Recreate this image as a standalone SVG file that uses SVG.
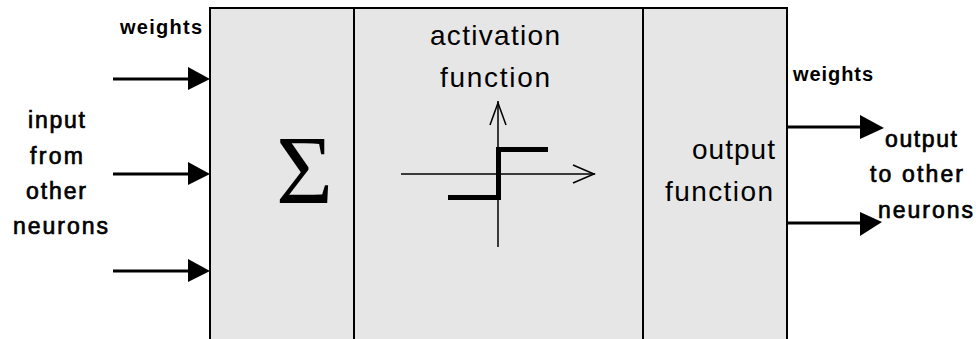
<svg xmlns="http://www.w3.org/2000/svg" width="976" height="339" viewBox="0 0 976 339">
  <style>
    .box { fill: #e6e6e6; stroke: #000; stroke-width: 2; }
    .div { stroke: #000; stroke-width: 2; }
    .wire { stroke: #000; stroke-width: 3; fill: none; }
    .axis { stroke: #000; stroke-width: 1.5; fill: none; }
    .step { stroke: #000; stroke-width: 5; fill: none; stroke-linecap: butt; stroke-linejoin: miter; }
    .lbl { font-family: "Liberation Sans", Arial, sans-serif; font-size: 22px; fill: #000; }
    .io { font-size: 23px; stroke: #000; stroke-width: 0.7; }
    .bold { font-weight: bold; font-size: 20px; }
    .thin { font-size: 28px; font-weight: normal; }
    .head { fill: #000; }
  </style>
  <rect width="976" height="339" fill="#fff"/>

  <g id="neuron-body">
    <rect class="box" x="210" y="8" width="577" height="340"/>
  </g>

  <g id="sum-node">
    <line class="div" x1="354" y1="8" x2="354" y2="345"/>
    <text x="304.5" y="203" text-anchor="middle" font-family="'Liberation Serif', 'Times New Roman', serif" font-size="98">Σ</text>
  </g>

  <g id="activation-node">
    <line class="div" x1="643" y1="8" x2="643" y2="345"/>
    <text class="lbl thin" x="430" y="45" textLength="130" lengthAdjust="spacing">activation</text>
    <text class="lbl thin" x="440" y="87" textLength="110" lengthAdjust="spacing">function</text>
    <line class="axis" x1="498" y1="101" x2="498" y2="247"/>
    <polyline class="axis" points="490,125 498,103 506,125"/>
    <line class="axis" x1="401" y1="174" x2="595" y2="174"/>
    <polyline class="axis" points="573,165 594,174 573,183"/>
    <polyline class="step" points="448,197.5 498.5,197.5 498.5,149.5 548,149.5"/>
  </g>

  <g id="output-node">
    <text class="lbl thin" x="692" y="159" textLength="83" lengthAdjust="spacing">output</text>
    <text class="lbl thin" x="665" y="201" textLength="108" lengthAdjust="spacing">function</text>
  </g>

  <g id="input-label">
    <text class="lbl io" x="28" y="128" textLength="57" lengthAdjust="spacing">input</text>
    <text class="lbl io" x="30" y="164" textLength="53" lengthAdjust="spacing">from</text>
    <text class="lbl io" x="26" y="199" textLength="60" lengthAdjust="spacing">other</text>
    <text class="lbl io" x="13" y="234" textLength="95" lengthAdjust="spacing">neurons</text>
  </g>

  <g id="output-label">
    <text class="lbl io" x="885" y="147" textLength="72" lengthAdjust="spacing">output</text>
    <text class="lbl io" x="870" y="182" textLength="93" lengthAdjust="spacing">to other</text>
    <text class="lbl io" x="878" y="218" textLength="95" lengthAdjust="spacing">neurons</text>
  </g>

  <g id="weight-labels">
    <text class="lbl bold" x="120" y="34" textLength="82" lengthAdjust="spacing">weights</text>
    <text class="lbl bold" x="793" y="81" textLength="80" lengthAdjust="spacing">weights</text>
  </g>

  <g id="connectors">
    <line class="wire" x1="113" y1="79" x2="192" y2="79"/>
    <polygon class="head" points="188,67 210,79 188,90"/>
    <line class="wire" x1="113" y1="174" x2="192" y2="174"/>
    <polygon class="head" points="188,162 210,174 188,185"/>
    <line class="wire" x1="113" y1="271" x2="192" y2="271"/>
    <polygon class="head" points="188,259 210,271 188,282"/>
    <line class="wire" x1="787" y1="127" x2="864" y2="127"/>
    <polygon class="head" points="860,115 884,128 860,139"/>
    <line class="wire" x1="787" y1="223" x2="864" y2="223"/>
    <polygon class="head" points="860,212 882,222 860,236"/>
  </g>
</svg>
